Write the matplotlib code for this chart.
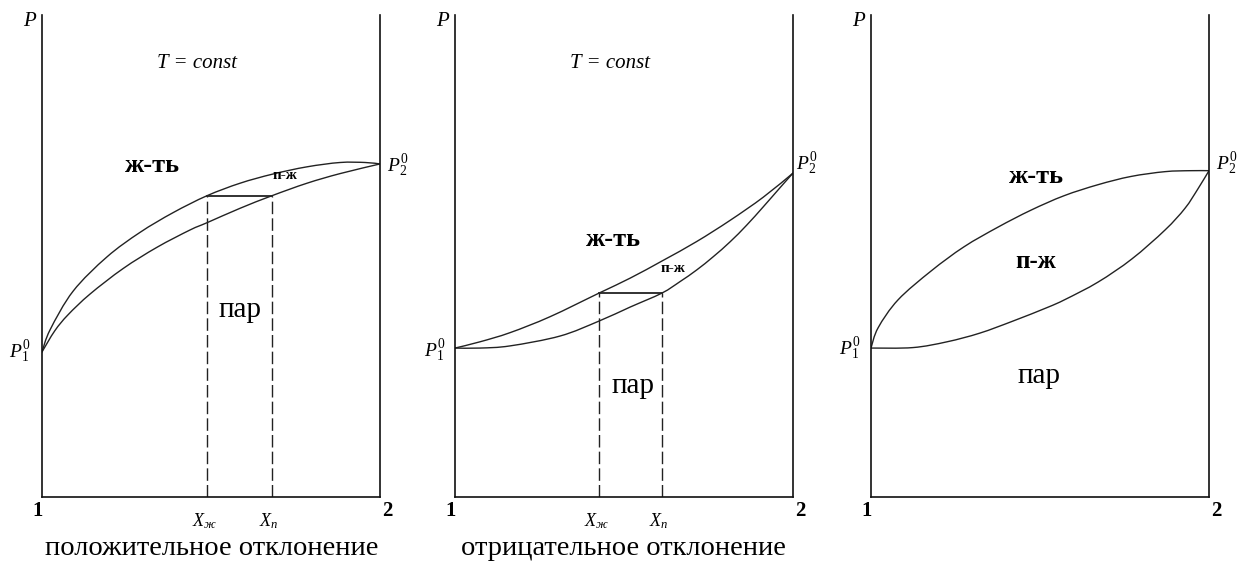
import matplotlib
matplotlib.use('Agg')
import matplotlib.pyplot as plt
from matplotlib.path import Path
from matplotlib.patches import PathPatch

plt.rcParams['font.family'] = ['Liberation Serif', 'DejaVu Serif']
plt.rcParams['mathtext.fontset'] = 'custom'
plt.rcParams['mathtext.rm'] = 'Liberation Serif'
plt.rcParams['mathtext.it'] = 'Liberation Serif:italic'
plt.rcParams['mathtext.bf'] = 'Liberation Serif:bold'

# ---------------- data (x: mole fraction of component 2, P: relative pressure) ----------------
# Panel 1: positive deviation
pos_liq_x = [0, 0.024, 0.092, 0.192, 0.290, 0.388, 0.488, 0.586, 0.683, 0.784, 0.882, 0.956, 1.0]
pos_liq_p = [30.1, 34.7, 42.7, 49.8, 54.9, 59.0, 62.5, 65.1, 67.0, 68.5, 69.4, 69.4, 69.1]
pos_vap_x = [0, 0.038, 0.077, 0.142, 0.240, 0.340, 0.438, 0.488, 0.586, 0.680, 0.784, 0.882, 1.0]
pos_vap_p = [30.1, 34.5, 37.8, 42.1, 47.4, 51.8, 55.4, 56.9, 59.9, 62.5, 65.1, 67.1, 69.1]
pos_tie_x = [0.488, 0.680]   # X_ж, X_п
pos_tie_p = 62.5

# Panel 2: negative deviation
neg_liq_x = [0, 0.074, 0.163, 0.281, 0.426, 0.518, 0.616, 0.715, 0.814, 0.912, 1.0]
neg_liq_p = [30.9, 32.2, 34.1, 37.4, 42.3, 45.4, 49.1, 53.0, 57.4, 62.2, 67.2]
neg_vap_x = [0, 0.074, 0.163, 0.311, 0.426, 0.518, 0.612, 0.666, 0.715, 0.764, 0.814, 0.863, 0.912, 0.962, 1.0]
neg_vap_p = [30.9, 30.9, 31.35, 33.4, 36.5, 39.4, 42.3, 44.7, 47.1, 49.85, 52.95, 56.4, 60.2, 64.2, 67.2]
neg_tie_x = [0.426, 0.612]
neg_tie_p = 42.3

# Panel 3: ideal system
ide_liq_x = [0, 0.021, 0.080, 0.178, 0.275, 0.376, 0.473, 0.571, 0.672, 0.769, 0.870, 0.944, 1.0]
ide_liq_p = [30.9, 35.1, 40.9, 46.9, 51.9, 56.0, 59.5, 62.5, 64.8, 66.5, 67.5, 67.7, 67.7]
ide_vap_x = [0, 0.124, 0.225, 0.322, 0.420, 0.521, 0.575, 0.672, 0.772, 0.870, 0.929, 0.967, 1.0]
ide_vap_p = [30.9, 31.0, 32.2, 34.0, 36.5, 39.3, 41.0, 44.6, 49.4, 55.4, 59.9, 63.9, 67.7]

end_labels = ['1', '2']
tie_labels = ['$X_{ж}$', '$X_{п}$']
captions = ['положительное отклонение', 'отрицательное отклонение']
region_labels = ['ж-ть', 'п-ж', 'пар']

# ---------------- figure ----------------
W, H = 1240, 563
fig = plt.figure(figsize=(W / 100, H / 100), dpi=100)
fig.patch.set_facecolor('white')

lefts = [42, 455, 871]
ax_w, ax_bottom, ax_top = 338, 497, 15
axes = []
for L in lefts:
    ax = fig.add_axes([L / W, (H - ax_bottom) / H, ax_w / W, (ax_bottom - ax_top) / H])
    ax.set_xlim(0, 1)
    ax.set_ylim(0, 100)
    ax.spines['top'].set_visible(False)
    for s in ('left', 'right', 'bottom'):
        ax.spines[s].set_linewidth(1.2)
        ax.spines[s].set_color('#111111')
    ax.set_xticks([])
    ax.set_yticks([])
    ax.patch.set_alpha(0)
    axes.append(ax)

LC = '#222222'
LW = 1.0


def smooth_curve(ax, xs, ys):
    """Draw a smooth (Catmull-Rom / cubic Bezier) line through the given points."""
    pts = list(zip(xs, ys))
    n = len(pts)
    verts = [pts[0]]
    codes = [Path.MOVETO]
    for i in range(n - 1):
        p0 = pts[i - 1] if i > 0 else pts[i]
        p1 = pts[i]
        p2 = pts[i + 1]
        p3 = pts[i + 2] if i + 2 < n else pts[i + 1]
        c1 = (p1[0] + (p2[0] - p0[0]) / 6.0, p1[1] + (p2[1] - p0[1]) / 6.0)
        c2 = (p2[0] - (p3[0] - p1[0]) / 6.0, p2[1] - (p3[1] - p1[1]) / 6.0)
        verts += [c1, c2, p2]
        codes += [Path.CURVE4] * 3
    ax.add_patch(PathPatch(Path(verts, codes), facecolor='none', edgecolor=LC, lw=LW,
                           joinstyle='round', capstyle='round'))


def common(ax, p1_pos, p2_pos):
    ax.text(-0.036, 98.6, '$P$', fontsize=15, ha='center', va='center', clip_on=False)
    ax.text(p1_pos[0], p1_pos[1], '$P_1^0$', fontsize=14, ha='center', va='center', clip_on=False)
    ax.text(p2_pos[0], p2_pos[1], '$P_2^0$', fontsize=14, ha='center', va='center', clip_on=False)
    ax.text(-0.012, -2.9, end_labels[0], fontsize=15, fontweight='bold', ha='center', va='center', clip_on=False)
    ax.text(1.021, -2.9, end_labels[1], fontsize=15, fontweight='bold', ha='center', va='center', clip_on=False)


def tie(ax, tx, tp):
    ax.plot(tx, [tp, tp], color=LC, lw=1.3)
    for xv in tx:
        ax.plot([xv, xv], [0, tp], color=LC, lw=1.0, linestyle=(0, (9, 3)))
    for xv, lab in zip(tx, tie_labels):
        ax.text(xv - 0.008, -5.0, lab, fontsize=13, ha='center', va='center', clip_on=False)


# Panel 1
ax = axes[0]
smooth_curve(ax, pos_liq_x, pos_liq_p)
smooth_curve(ax, pos_vap_x, pos_vap_p)
tie(ax, pos_tie_x, pos_tie_p)
ax.text(0.459, 90.0, 'T = const', fontsize=15, style='italic', ha='center', va='center')
ax.text(0.328, 68.8, region_labels[0], fontsize=19, fontweight='bold', ha='center', va='center')
ax.text(0.719, 66.6, region_labels[1], fontsize=11, fontweight='bold', ha='center', va='center')
ax.text(0.586, 38.8, region_labels[2], fontsize=21, ha='center', va='center')
ax.text(0.503, -10.6, captions[0], fontsize=20.5, ha='center', va='center', clip_on=False)
common(ax, (-0.065, 30.1), (1.053, 68.8))

# Panel 2
ax = axes[1]
smooth_curve(ax, neg_liq_x, neg_liq_p)
smooth_curve(ax, neg_vap_x, neg_vap_p)
tie(ax, neg_tie_x, neg_tie_p)
ax.text(0.459, 90.0, 'T = const', fontsize=15, style='italic', ha='center', va='center')
ax.text(0.470, 53.5, region_labels[0], fontsize=19, fontweight='bold', ha='center', va='center')
ax.text(0.645, 47.4, region_labels[1], fontsize=11, fontweight='bold', ha='center', va='center')
ax.text(0.527, 23.1, region_labels[2], fontsize=21, ha='center', va='center')
ax.text(0.497, -10.6, captions[1], fontsize=20.5, ha='center', va='center', clip_on=False)
common(ax, (-0.059, 30.3), (1.041, 69.2))

# Panel 3
ax = axes[2]
smooth_curve(ax, ide_liq_x, ide_liq_p)
smooth_curve(ax, ide_vap_x, ide_vap_p)
ax.text(0.488, 66.4, region_labels[0], fontsize=19, fontweight='bold', ha='center', va='center')
ax.text(0.488, 48.9, region_labels[1], fontsize=18, fontweight='bold', ha='center', va='center')
ax.text(0.497, 25.1, region_labels[2], fontsize=21, ha='center', va='center')
common(ax, (-0.062, 30.7), (1.053, 69.2))

fig.savefig('out.png', dpi=100, facecolor='white')
